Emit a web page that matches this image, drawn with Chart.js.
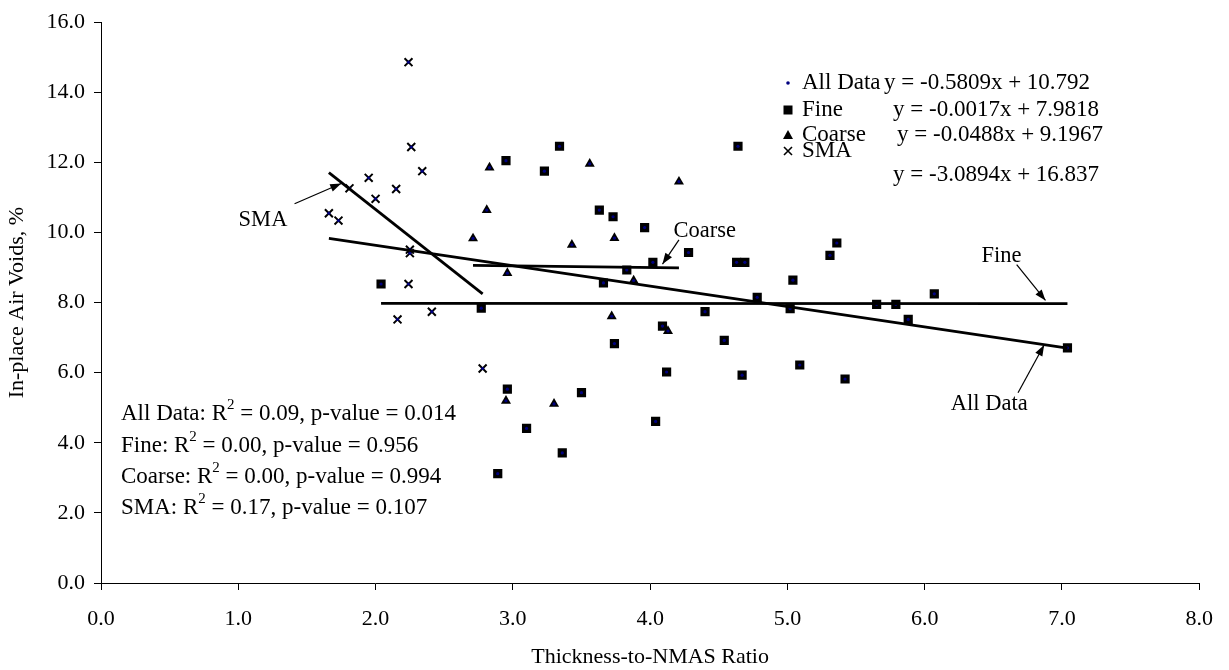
<!DOCTYPE html>
<html><head><meta charset="utf-8">
<script src="https://cdn.jsdelivr.net/npm/chart.js@4.4.0/dist/chart.umd.min.js"></script>
<style>html,body{margin:0;padding:0;background:#fff;}#wrap{width:1229px;height:670px;position:relative;}</style>
</head><body><div id="wrap"><canvas id="c"></canvas></div>
<script>
// ---- data ----
const fineX = [2.04,2.77,2.89,2.95,2.96,3.10,3.23,3.34,3.36,3.50,3.63,3.66,3.73,3.74,3.83,3.96,4.02,4.04,4.09,4.12,4.28,4.40,4.54,4.63,4.64,4.69,4.67,4.78,5.02,5.04,5.09,5.31,5.36,5.42,5.65,5.79,5.88,6.07,7.04];
const fineY = [8.53,7.84,3.12,12.05,5.53,4.41,11.75,12.46,3.71,5.43,10.64,8.56,10.45,6.83,8.93,10.14,9.15,4.61,7.33,6.02,9.43,7.74,6.92,9.15,12.46,9.15,5.93,8.15,7.83,8.64,6.22,9.35,9.70,5.82,7.95,7.95,7.52,8.25,6.71];
const coarseX = [2.71,2.81,2.83,2.95,2.96,3.30,3.43,3.56,3.72,3.74,3.88,4.13,4.21];
const coarseY = [9.83,10.64,11.85,5.20,8.84,5.11,9.65,11.96,7.61,9.84,8.63,7.19,11.45];
const smaX = [2.24,2.26,2.34,1.95,2.15,1.81,2.00,1.66,1.73,2.25,2.25,2.24,2.16,2.41,2.78];
const smaY = [14.86,12.44,11.75,11.56,11.24,11.26,10.96,10.55,10.34,9.51,9.41,8.53,7.52,7.74,6.12];
const seriesNames = ['All Data','Fine','Coarse','SMA'];
// trendline end points per series
const trendX0 = [1.66,2.04,2.71,1.66];
const trendX1 = [7.04,7.04,4.21,2.78];
const trendY0 = [9.83,7.98,9.06,11.71];
const trendY1 = [6.70,7.97,8.99,8.25];
const equations = ['y = -0.5809x + 10.792','y = -0.0017x + 7.9818','y = -0.0488x + 9.1967','y = -3.0894x + 16.837'];
const r2Values = ['0.09','0.00','0.00','0.17'];
const pValues = ['0.014','0.956','0.994','0.107'];
const xTickLabels = ['0.0','1.0','2.0','3.0','4.0','5.0','6.0','7.0','8.0'];
const yTickLabels = ['0.0','2.0','4.0','6.0','8.0','10.0','12.0','14.0','16.0'];
const xTitle = 'Thickness-to-NMAS Ratio';
const yTitle = 'In-place Air Voids, %';

// ---- build ----
const FONT = "'Liberation Serif','Times New Roman',serif";
const pts = (xs, ys) => xs.map((x, i) => ({x, y: ys[i]}));
const allX = [...fineX, ...coarseX, ...smaX];
const allY = [...fineY, ...coarseY, ...smaY];

const trendSets = seriesNames.map((n, i) => ({
  label: n + ' trend', data: [{x: trendX0[i], y: trendY0[i]}, {x: trendX1[i], y: trendY1[i]}],
  showLine: true, pointRadius: 0, borderColor: '#000', borderWidth: 2.8, order: 0
}));

const annotations = [
  {text: 'SMA', tx: 1.18, ty: 10.36, align: 'center', from: [1.41, 10.82], to: [1.75, 11.40]},
  {text: 'Coarse', tx: 4.17, ty: 10.03, align: 'left', from: [4.21, 9.79], to: [4.09, 9.10]},
  {text: 'Fine', tx: 6.56, ty: 9.32, align: 'center', from: [6.67, 9.08], to: [6.88, 8.06]},
  {text: 'All Data', tx: 6.47, ty: 5.11, align: 'center', from: [6.68, 5.43], to: [6.87, 6.79]}
];

function drawSup(ctx, x, y, pre, sup, post, size) {
  ctx.font = size + 'px ' + FONT;
  ctx.fillText(pre, x, y);
  let w = ctx.measureText(pre).width;
  ctx.font = Math.round(size * 0.65) + 'px ' + FONT;
  ctx.fillText(sup, x + w, y - size * 0.38);
  w += ctx.measureText(sup).width;
  ctx.font = size + 'px ' + FONT;
  ctx.fillText(post, x + w, y);
}
function arrow(ctx, x0, y0, x1, y1) {
  ctx.lineWidth = 1.2;
  ctx.beginPath(); ctx.moveTo(x0, y0); ctx.lineTo(x1, y1); ctx.stroke();
  const a = Math.atan2(y1 - y0, x1 - x0), L = 11, W = 4;
  ctx.beginPath(); ctx.moveTo(x1, y1);
  ctx.lineTo(x1 - L * Math.cos(a) + W * Math.sin(a), y1 - L * Math.sin(a) - W * Math.cos(a));
  ctx.lineTo(x1 - L * Math.cos(a) - W * Math.sin(a), y1 - L * Math.sin(a) + W * Math.cos(a));
  ctx.closePath(); ctx.fill();
}

const overlay = {
  id: 'overlay',
  afterDatasetsDraw(chart) {
    const {ctx, scales: {x, y}} = chart;
    ctx.save();
    ctx.fillStyle = '#000'; ctx.strokeStyle = '#000';
    ctx.textBaseline = 'middle'; ctx.textAlign = 'left';
    // legend
    const lx = 788, tx = 802;
    const rowY = [83, 110, 135, 151];
    const eqX = [884, 893, 897, 893];
    const eqY = [83, 110, 135, 175];
    ctx.fillStyle = '#000080';
    ctx.beginPath(); ctx.arc(lx, rowY[0], 1.8, 0, Math.PI * 2); ctx.fill();
    ctx.fillStyle = '#000';
    ctx.fillRect(lx - 4.5, rowY[1] - 4.5, 9, 9);
    ctx.beginPath(); ctx.moveTo(lx, rowY[2] - 5); ctx.lineTo(lx + 5, rowY[2] + 4); ctx.lineTo(lx - 5, rowY[2] + 4); ctx.closePath(); ctx.fill();
    ctx.lineWidth = 1.6;
    ctx.beginPath(); ctx.moveTo(lx - 4, rowY[3] - 4); ctx.lineTo(lx + 4, rowY[3] + 4);
    ctx.moveTo(lx + 4, rowY[3] - 4); ctx.lineTo(lx - 4, rowY[3] + 4); ctx.stroke();
    ctx.font = '23px ' + FONT;
    seriesNames.forEach((n, i) => {
      ctx.fillText(n, tx, rowY[i]);
      ctx.fillText(equations[i], eqX[i], eqY[i]);
    });
    // stats
    const sy = [414, 446, 477, 508];
    seriesNames.forEach((n, i) => {
      drawSup(ctx, 121, sy[i], n + ': R', '2', ' = ' + r2Values[i] + ', p-value = ' + pValues[i], 23);
    });
    // annotations
    annotations.forEach(a => {
      ctx.textAlign = a.align;
      ctx.font = '22.5px ' + FONT;
      ctx.fillText(a.text, x.getPixelForValue(a.tx), y.getPixelForValue(a.ty));
      arrow(ctx, x.getPixelForValue(a.from[0]), y.getPixelForValue(a.from[1]),
                 x.getPixelForValue(a.to[0]), y.getPixelForValue(a.to[1]));
    });
    ctx.restore();
  }
};

new Chart(document.getElementById('c'), {
  type: 'scatter',
  data: {
    datasets: [
      ...trendSets,
      {label: 'All Data', data: pts(allX, allY), pointStyle: 'circle', pointRadius: 1.6, backgroundColor: '#000080', borderWidth: 0, order: 1},
      {label: 'Fine', data: pts(fineX, fineY), pointStyle: 'rect', pointRadius: 6.5, backgroundColor: '#000', borderColor: '#000', borderWidth: 0, order: 2},
      {label: 'Coarse', data: pts(coarseX, coarseY), pointStyle: 'triangle', pointRadius: 5.8, backgroundColor: '#000', borderColor: '#000', borderWidth: 0, order: 2},
      {label: 'SMA', data: pts(smaX, smaY), pointStyle: 'crossRot', pointRadius: 5.6, borderColor: '#000', borderWidth: 2, order: 2}
    ]
  },
  options: {
    responsive: true, maintainAspectRatio: false, animation: false,
    layout: {padding: {top: 20, right: 29, left: 0, bottom: 0}},
    plugins: {legend: {display: false}, tooltip: {enabled: false}},
    scales: {
      x: {
        type: 'linear', min: 0, max: 8,
        afterFit: s => { s.height = 87; },
        ticks: {stepSize: 1, color: '#000', font: {family: FONT, size: 22}, padding: 16,
                callback: (v, i) => xTickLabels[i]},
        grid: {drawOnChartArea: false, drawTicks: true, tickLength: 7, color: '#000', lineWidth: 1},
        border: {display: true, color: '#000', width: 1},
        title: {display: true, text: xTitle, color: '#000', font: {family: FONT, size: 22}, padding: {top: 0, bottom: 0}}
      },
      y: {
        type: 'linear', min: 0, max: 16,
        afterFit: s => { s.width = 101; },
        ticks: {stepSize: 2, color: '#000', font: {family: FONT, size: 22}, padding: 9,
                callback: (v, i) => yTickLabels[i]},
        grid: {drawOnChartArea: false, drawTicks: true, tickLength: 7, color: '#000', lineWidth: 1},
        border: {display: true, color: '#000', width: 1},
        title: {display: true, text: yTitle, color: '#000', font: {family: FONT, size: 22}, padding: {top: 4, bottom: 0}}
      }
    }
  },
  plugins: [overlay]
});
</script>
</body></html>
